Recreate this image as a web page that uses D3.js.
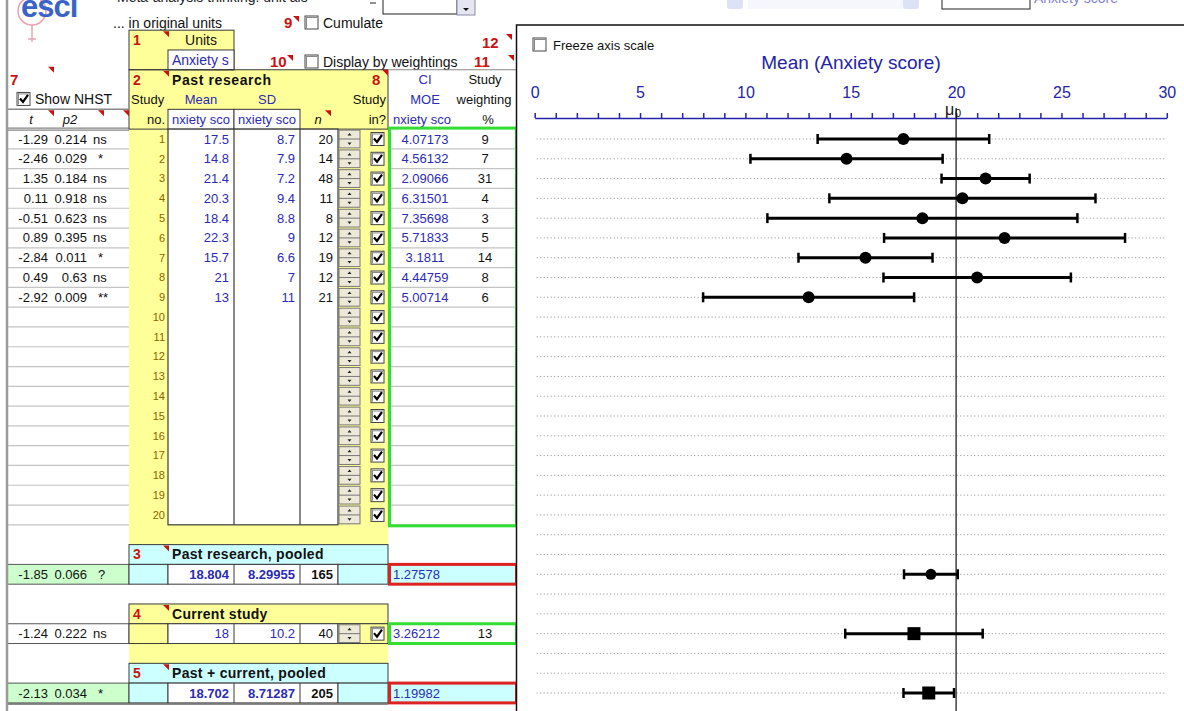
<!DOCTYPE html>
<html>
<head>
<meta charset="utf-8">
<script src="https://cdn.jsdelivr.net/npm/d3@7"></script>
<style>
  body { margin: 0; background: #fff; }
  svg { display: block; font-family: "Liberation Sans", Arial, sans-serif; }
</style>
</head>
<body>
<div id="chart"></div>
<script>
// past research, one entry per study
const studyIds = d3.range(1, 21);
const means = [17.5, 14.8, 21.4, 20.3, 18.4, 22.3, 15.7, 21, 13];
const sds = [8.7, 7.9, 7.2, 9.4, 8.8, 9, 6.6, 7, 11];
const ns = [20, 14, 48, 11, 8, 12, 19, 12, 21];
const moes = [4.07173, 4.56132, 2.09066, 6.31501, 7.35698, 5.71833, 3.1811, 4.44759, 5.00714];
const weights = [9, 7, 31, 4, 3, 5, 14, 8, 6];
const tVals = [-1.29, -2.46, 1.35, 0.11, -0.51, 0.89, -2.84, 0.49, -2.92];
const pVals = [0.214, 0.029, 0.184, 0.918, 0.623, 0.395, 0.011, 0.63, 0.009];
const sigs = ["ns", "*", "ns", "ns", "ns", "ns", "*", "ns", "**"];

// pooled past, current study, past + current
const sumLabels = ["Past research, pooled", "Current study", "Past + current, pooled"];
const sumNums = ["3", "4", "5"];
const sumMeans = [18.804, 18, 18.702];
const sumSds = [8.29955, 10.2, 8.71287];
const sumNs = [165, 40, 205];
const sumMoes = [1.27578, 3.26212, 1.19982];
const sumT = [-1.85, -1.24, -2.13];
const sumP = [0.066, 0.222, 0.034];
const sumSig = ["?", "ns", "*"];
const currentWeight = 13;

const axisTicks = d3.range(0, 31);
const mu0 = 20;

const W = 1184, H = 711;
const yellow = "#ffff99", cyan = "#ccffff", paleGreen = "#ccffcc";
const blue = "#2b2bb5", red = "#cc1111", grid = "#c4c4c4", dark = "#3a3a3a";
const axisBlue = "#2424a8";

const svg = d3.select("#chart").append("svg")
  .attr("width", W)
  .attr("height", H);

// every row of the sheet shares this scale, right panel too
const rowY = d3.scaleLinear().domain([1, 29]).range([139, 693]);
const rh = rowY(2) - rowY(1);
const rowTop = r => rowY(r) - rh / 2;
const rowBot = r => rowY(r) + rh / 2;

function box(x, y, w, h, fill, stroke, sw) {
  return svg.append("rect").attr("x", x).attr("y", y).attr("width", w).attr("height", h)
    .attr("fill", fill || "none").attr("stroke", stroke || "none").attr("stroke-width", sw || 1);
}
function hline(x1, x2, y, col, sw) {
  svg.append("line").attr("x1", x1).attr("x2", x2).attr("y1", y).attr("y2", y)
    .attr("stroke", col).attr("stroke-width", sw || 1);
}
function vline(x, y1, y2, col, sw) {
  svg.append("line").attr("x1", x).attr("x2", x).attr("y1", y1).attr("y2", y2)
    .attr("stroke", col).attr("stroke-width", sw || 1);
}
function label(x, y, s, o) {
  o = o || {};
  return svg.append("text").attr("x", x).attr("y", y).attr("dy", "0.35em")
    .attr("text-anchor", o.anchor || "start")
    .attr("font-size", o.size || 13)
    .attr("font-weight", o.weight || "normal")
    .attr("font-style", o.style || "normal")
    .attr("fill", o.fill || "#111")
    .text(s);
}
function flag(x, y) {
  svg.append("path").attr("d", `M${x},${y} l6,0 l0,6 z`).attr("fill", red);
}
function checkbox(x, y, checked) {
  box(x, y, 13, 13, "#fff", "#444", 1);
  vline(x + 1.5, y + 1, y + 12, "#888", 1);
  hline(x + 1, x + 12, y + 1.5, "#888", 1);
  if (checked) {
    svg.append("path").attr("d", `M${x + 3},${y + 6} l3,3.5 l5,-7`)
      .attr("fill", "none").attr("stroke", "#000").attr("stroke-width", 2.2);
  }
}
function spinner(r) {
  const y0 = rowTop(r) + 1, h = rh - 2;
  box(339, y0, 21, h, "#ece9d8", "#777", 1);
  hline(339, 360, y0 + h / 2, "#777", 1);
  svg.append("path").attr("d", `M${347.5},${y0 + 5.5} l2,-2.5 l2,2.5 z`).attr("fill", "#222");
  svg.append("path").attr("d", `M${347.5},${y0 + h - 5.5} l2,2.5 l2,-2.5 z`).attr("fill", "#222");
}

// ---------- top strip (mostly cut off) ----------
svg.append("circle").attr("cx", 32).attr("cy", 11).attr("r", 14)
  .attr("fill", "none").attr("stroke", "#e7a3b3").attr("stroke-width", 1.5);
vline(32, 25, 42, "#e7a3b3", 1.5);
hline(28, 36, 39, "#e7a3b3", 1.5);
svg.append("text").attr("x", 21).attr("y", 17).attr("font-size", 31).attr("font-weight", "bold")
  .attr("fill", "#3a63c9").attr("letter-spacing", -1).text("esci");
svg.append("text").attr("x", 117).attr("y", 2).attr("font-size", 14).attr("fill", "#222")
  .text("Meta-analysis thinking: unit ais");
label(113, 23, "... in original units", { size: 14 });
hline(370, 376, 3, "#222", 1);
box(383, -4, 74, 18, "#fff", "#222", 1);
box(457, -4, 18, 19, "#e6e6f0", "#8a8aa8", 1);
svg.append("path").attr("d", "M463,8 l6,0 l-3,3 z").attr("fill", "#111");

label(284, 23, "9", { size: 15, weight: "bold", fill: red });
flag(293, 16);
checkbox(305, 16, false);
label(323, 23, "Cumulate", { size: 14 });

label(270, 62, "10", { size: 15, weight: "bold", fill: red });
flag(287, 55);
checkbox(305, 55, false);
label(323, 62, "Display by weightings", { size: 14 });

label(482, 43, "12", { size: 15, weight: "bold", fill: red });
flag(506, 34);
label(474, 62, "11", { size: 15, weight: "bold", fill: red });
flag(508, 55);

// ---------- yellow blocks ----------
box(129, rowTop(-4), 105, rh * 2, yellow);
box(129, rowTop(-2), 259, rowBot(21) - rowTop(-2), yellow);
box(129, rowTop(27), 259, rh, yellow);

// units box
box(129, rowTop(-4), 105, rh * 2, "none", dark, 1);
box(168, rowTop(-3), 66, rh, "#fff", dark, 1);
label(133, rowY(-4), "1", { size: 14, weight: "bold", fill: red });
flag(163, rowTop(-4) + 1);
label(201, rowY(-4), "Units", { anchor: "middle", size: 14 });
label(172, rowY(-3), "Anxiety s", { size: 14, fill: blue });

// past research header
box(129, rowTop(-2), 259, rowBot(0) - rowTop(-2), "none", dark, 1);
label(133, rowY(-2), "2", { size: 14, weight: "bold", fill: red });
flag(163, rowTop(-2) + 1);
label(172, rowY(-2), "Past research", { size: 14, weight: "bold", fill: "#111" }).attr("letter-spacing", 0.6);
label(372, rowY(-2), "8", { size: 15, weight: "bold", fill: red });
flag(382, rowTop(-2));
label(131, rowY(-1), "Study", { size: 13 });
label(201, rowY(-1), "Mean", { anchor: "middle", fill: blue });
label(267, rowY(-1), "SD", { anchor: "middle", fill: blue });
label(386, rowY(-1), "Study", { anchor: "end" });
label(165, rowY(0), "no.", { anchor: "end" });
[168, 234].forEach(x0 => {
  box(x0, rowTop(0), 66, rh, "#fff", dark, 1);
  label(x0 + 33, rowY(0), "nxiety sco", { anchor: "middle", fill: blue });
});
label(318, rowY(0), "n", { anchor: "middle", style: "italic" });
flag(325, rowTop(0) + 1);
label(386, rowY(0), "in?", { anchor: "end" });

// left NHST header
label(10, rowY(-2), "7", { size: 15, weight: "bold", fill: red });
flag(48, rowTop(-2) - 3);
checkbox(17, rowY(-1) - 7, true);
label(35, rowY(-1), "Show NHST", { size: 14 });
hline(7, 129, rowTop(0), "#888", 1.5);
hline(7, 129, rowBot(0) - 1, "#666", 1);
hline(7, 129, rowBot(0) + 1, "#666", 1);
label(31, rowY(0), "t", { anchor: "middle", style: "italic" });
flag(48, rowTop(0) + 1);
label(70, rowY(0), "p2", { anchor: "middle", style: "italic" });
flag(98, rowTop(0) + 1);
flag(123, rowTop(0) + 1);

// CI header
hline(389, 517, rowTop(-2), "#888", 1);
label(425, rowY(-2), "CI", { anchor: "middle", fill: blue });
label(485, rowY(-2), "Study", { anchor: "middle" });
label(425, rowY(-1), "MOE", { anchor: "middle", fill: blue });
label(484, rowY(-1), "weighting", { anchor: "middle" });
label(422, rowY(0), "nxiety sco", { anchor: "middle", fill: blue });
label(488, rowY(0), "%", { anchor: "middle" });

// ---------- study rows ----------
studyIds.forEach(r => {
  hline(7, 129, rowBot(r), grid, 1.2);
  hline(391, 516, rowBot(r), grid, 1.2);
});
box(168, rowTop(1), 170, rowBot(20) - rowTop(1), "#fff", dark, 1.2);
vline(234, rowTop(1), rowBot(20), dark, 1.2);
vline(300, rowTop(1), rowBot(20), dark, 1.2);
studyIds.forEach(r => {
  label(165, rowY(r), r, { anchor: "end", size: 11, fill: "#8a6400" });
  spinner(r);
  checkbox(371, rowY(r) - 6.5, true);
});
means.forEach((m, i) => {
  const y = rowY(i + 1);
  label(48, y, tVals[i], { anchor: "end" });
  label(87, y, pVals[i], { anchor: "end" });
  label(sigs[i] === "ns" ? 93 : 98, y, sigs[i]);
  label(229, y, m, { anchor: "end", fill: blue });
  label(295, y, sds[i], { anchor: "end", fill: blue });
  label(333, y, ns[i], { anchor: "end" });
  label(425, y, moes[i], { anchor: "middle", fill: blue });
  label(485, y, weights[i], { anchor: "middle" });
});
box(389.5, rowTop(1) - 1, 127, rowBot(20) - rowTop(1) + 2, "none", "#33dd33", 3);

// ---------- summary rows ----------
const hdrRows = [22, 25, 28];
const valRows = [23, 26, 29];
sumLabels.forEach((s, i) => {
  const hr = hdrRows[i], vr = valRows[i];
  const pooled = i !== 1;
  box(129, rowTop(hr), 259, rh, pooled ? cyan : yellow, dark, 1);
  label(133, rowY(hr), sumNums[i], { size: 14, weight: "bold", fill: red });
  flag(163, rowTop(hr) + 1);
  label(172, rowY(hr), s, { size: 14, weight: "bold" }).attr("letter-spacing", 0.3);

  box(7, rowTop(vr), 122, rh, pooled ? paleGreen : "#fff", "#555", 1);
  box(129, rowTop(vr), 39, rh, pooled ? cyan : yellow, dark, 1);
  box(168, rowTop(vr), 170, rh, "#fff", dark, 1);
  vline(234, rowTop(vr), rowBot(vr), dark, 1);
  vline(300, rowTop(vr), rowBot(vr), dark, 1);
  box(338, rowTop(vr), 50, rh, pooled ? cyan : yellow, dark, 1);
  if (!pooled) {
    spinner(vr);
    checkbox(371, rowY(vr) - 6.5, true);
  }
  const y = rowY(vr);
  label(48, y, sumT[i], { anchor: "end" });
  label(87, y, sumP[i], { anchor: "end" });
  label(sumSig[i] === "ns" ? 93 : 98, y, sumSig[i]);
  const w = pooled ? "bold" : "normal";
  label(229, y, sumMeans[i], { anchor: "end", fill: blue, weight: w });
  label(295, y, sumSds[i], { anchor: "end", fill: blue, weight: w });
  label(333, y, sumNs[i], { anchor: "end", weight: w });
  box(389.5, rowTop(vr), 127, rh, pooled ? cyan : "#fff", pooled ? "#dd2222" : "#33dd33", 3);
  label(393, y, sumMoes[i], { fill: blue });
  if (!pooled) label(485, y, currentWeight, { anchor: "middle" });
});
hline(7, 388, rowBot(29) + 1, "#666", 1.5);
vline(7, 0, H, "#9a9a9a", 2.5);

// ---------- forest plot panel ----------
const x = d3.scaleLinear().domain([0, 30]).range([534.7, 1166.8]);

// controls peeking above the panel
svg.append("g").attr("opacity", 0.5).call(g => {
  g.append("rect").attr("x", 727).attr("y", -6).attr("width", 16).attr("height", 15).attr("rx", 3).attr("fill", "#b9c8ea");
  g.append("rect").attr("x", 748).attr("y", -6).attr("width", 155).attr("height", 15).attr("fill", "#eef1fa");
  g.append("rect").attr("x", 903).attr("y", -6).attr("width", 16).attr("height", 15).attr("rx", 3).attr("fill", "#b9c8ea");
});
box(942, -4, 88, 13, "#fff", "#222", 1);
svg.append("text").attr("x", 1034).attr("y", 3).attr("font-size", 14).attr("fill", blue).attr("opacity", 0.6).text("Anxiety score");

box(516.5, 25, 700, 700, "#fff", "#111", 1.5);
checkbox(533, 38, false);
label(553, 45, "Freeze axis scale", { size: 13 });
svg.append("text").attr("x", 851).attr("y", 69).attr("text-anchor", "middle")
  .attr("font-size", 19).attr("fill", axisBlue).text("Mean (Anxiety score)");

const gAxis = svg.append("g")
  .attr("transform", "translate(0,118)")
  .call(d3.axisTop(x).tickValues(axisTicks).tickSize(5).tickSizeOuter(0).tickPadding(15)
    .tickFormat(d => d % 5 === 0 ? d : ""));
gAxis.select(".domain").attr("stroke", axisBlue).attr("stroke-width", 1.5);
gAxis.selectAll(".tick line").attr("stroke", axisBlue).attr("stroke-width", 1.5);
gAxis.selectAll(".tick text").attr("fill", axisBlue).attr("font-size", 16)
  .attr("font-family", "\"Liberation Sans\", Arial, sans-serif");

// dotted guide rows
const plotRows = d3.range(1, 30);
svg.append("g").selectAll("line").data(plotRows).join("line")
  .attr("x1", x(0) + 2).attr("x2", x(30)).attr("y1", d => rowY(d)).attr("y2", d => rowY(d))
  .attr("stroke", "#8c8c8c").attr("stroke-width", 1).attr("stroke-dasharray", "1,2.5");

// mu0 reference line
vline(x(mu0), 108, H, "#111", 1.2);
svg.append("text").attr("x", x(mu0) - 2).attr("y", 115).attr("text-anchor", "end")
  .attr("font-size", 16).attr("fill", "#111").text("\u03bc");
svg.append("text").attr("x", x(mu0) - 1).attr("y", 117).attr("font-size", 11).attr("fill", "#111").text("0");

// error bars
const bars = svg.append("g").attr("stroke", "#000").attr("stroke-width", 3);
function ciBar(m, moe, y) {
  bars.append("line").attr("x1", x(m - moe)).attr("x2", x(m + moe)).attr("y1", y).attr("y2", y);
  bars.append("line").attr("x1", x(m - moe)).attr("x2", x(m - moe)).attr("y1", y - 5).attr("y2", y + 5).attr("stroke-width", 2.5);
  bars.append("line").attr("x1", x(m + moe)).attr("x2", x(m + moe)).attr("y1", y - 5).attr("y2", y + 5).attr("stroke-width", 2.5);
}
means.forEach((m, i) => ciBar(m, moes[i], rowY(i + 1)));
sumMeans.forEach((m, i) => ciBar(m, sumMoes[i], rowY(valRows[i])));

svg.append("g").selectAll("circle").data(means).join("circle")
  .attr("cx", d => x(d)).attr("cy", (d, i) => rowY(i + 1)).attr("r", 6).attr("fill", "#000");
svg.append("circle").attr("cx", x(sumMeans[0])).attr("cy", rowY(valRows[0])).attr("r", 5.5).attr("fill", "#000");
[1, 2].forEach(i => {
  svg.append("rect").attr("x", x(sumMeans[i]) - 6.5).attr("y", rowY(valRows[i]) - 6.5)
    .attr("width", 13).attr("height", 13).attr("fill", "#000");
});
</script>
</body>
</html>
